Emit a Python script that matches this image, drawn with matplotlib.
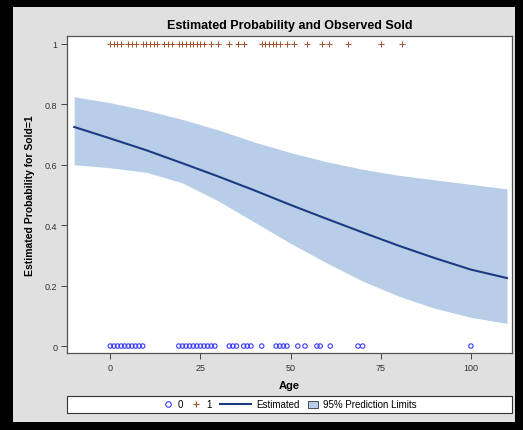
import numpy as np
import matplotlib.pyplot as plt
from matplotlib.patches import Rectangle, Patch
from matplotlib.lines import Line2D
from matplotlib.legend_handler import HandlerLine2D

plt.rcParams['font.family'] = ['Liberation Sans', 'DejaVu Sans']

# observed ages
age_sold1 = [0, 1, 2, 3, 5, 6, 7, 9, 10, 11, 12, 13, 15, 16, 17,
             19, 20, 21, 22, 23, 24, 25, 26, 28, 30, 33, 35.5, 37,
             42, 43, 44, 45, 46, 47, 49, 51, 54.5, 58.7, 60.7, 66, 75, 81]
age_sold0 = [0, 1, 2, 3, 4, 5, 6, 7, 8, 9, 19, 20, 21, 22, 23, 24, 25, 26,
             27, 28, 29, 33, 34, 35, 37, 38, 39, 42, 46, 47, 48, 49,
             52, 54, 57.3, 58.2, 61, 68.7, 70, 100]

# fitted curve and 95% prediction limits
fit_age = [-10, 0, 10, 20, 30, 40, 50, 60, 70, 80, 90, 100, 110]
fit_est = [0.725, 0.687, 0.648, 0.605, 0.561, 0.515, 0.467, 0.421, 0.376,
           0.332, 0.291, 0.253, 0.225]
fit_upper = [0.825, 0.805, 0.780, 0.750, 0.715, 0.675, 0.640, 0.610, 0.585,
             0.565, 0.550, 0.535, 0.520]
fit_lower = [0.600, 0.590, 0.575, 0.540, 0.480, 0.410, 0.340, 0.275, 0.215,
             0.165, 0.125, 0.095, 0.075]

band_col = '#b7cde8'
line_col = '#1c3c82'
circ_col = '#3b3bff'
plus_col = '#a0522d'


class LongLineHandler(HandlerLine2D):
    # wider handle box just for the "Estimated" line
    def legend_artist(self, legend, orig_handle, fontsize, handlebox):
        handlebox.width *= 3.2
        return super().legend_artist(legend, orig_handle, fontsize, handlebox)


fig = plt.figure(figsize=(5.23, 4.31), dpi=100)
fig.patch.set_facecolor('black')

# gray panel behind everything
fig.add_artist(Rectangle((13 / 523, 1 - 423 / 431), 502 / 523, 415 / 431,
                         transform=fig.transFigure, facecolor='#e0e0e0',
                         edgecolor='none', zorder=-5))

ax = fig.add_axes([67 / 523, 1 - 354 / 431, 445 / 523, 317 / 431])
ax.set_zorder(2)
ax.set_facecolor('white')

ax.fill_between(fit_age, fit_lower, fit_upper, color=band_col, lw=0, zorder=1)
ax.plot(fit_age, fit_est, color=line_col, lw=1.5, zorder=3)
ax.scatter(age_sold0, np.zeros(len(age_sold0)), marker='o', s=10,
           facecolors='none', edgecolors=circ_col, linewidths=0.8, zorder=4,
           clip_on=False)
ax.scatter(age_sold1, np.ones(len(age_sold1)), marker='+', s=20,
           color=plus_col, linewidths=0.7, zorder=4, clip_on=False)

ax.set_xlim(-12, 111.4)
ax.set_ylim(-0.023, 1.026)
ax.set_xticks([0, 25, 50, 75, 100])
ax.set_yticks([0, 0.2, 0.4, 0.6, 0.8, 1])
ax.set_yticklabels(['0', '0.2', '0.4', '0.6', '0.8', '1'])
ax.tick_params(labelsize=6.5, length=4, width=0.7, color='#444444',
               labelcolor='#333333', pad=3)
for sp in ax.spines.values():
    sp.set_color('#555555')
    sp.set_linewidth(0.9)

ax.set_xlabel('Age', fontsize=8, fontweight='bold', labelpad=6)
ax.set_ylabel('Estimated Probability for Sold=1', fontsize=7.5,
              fontweight='bold', labelpad=7)
ax.set_title('Estimated Probability and Observed Sold', fontsize=9,
             fontweight='bold', pad=6)

# legend box
fig.add_artist(Rectangle((67 / 523, 1 - 414 / 431), 445 / 523, 17 / 431,
                         transform=fig.transFigure, facecolor='white',
                         edgecolor='#333333', lw=0.8, zorder=3))
est_handle = Line2D([], [], color=line_col, lw=1.5)
handles = [
    Line2D([], [], marker='o', ls='none', mfc='none', mec=circ_col, ms=4, mew=0.8),
    Line2D([], [], marker='+', ls='none', color=plus_col, ms=5, mew=0.8),
    est_handle,
    Patch(facecolor=band_col, edgecolor='#333333', lw=0.6),
]
labels = ['0', '1', 'Estimated', '95% Prediction Limits']
leg = fig.legend(handles, labels, loc='center',
                 bbox_to_anchor=(289.5 / 523, 1 - 405.5 / 431),
                 ncol=4, frameon=False, fontsize=7, handlelength=1.0,
                 handletextpad=0.5, columnspacing=0.9, borderpad=0,
                 handler_map={est_handle: LongLineHandler()})
leg.set_zorder(4)

fig.savefig('out.png', dpi=100, facecolor=fig.get_facecolor())
